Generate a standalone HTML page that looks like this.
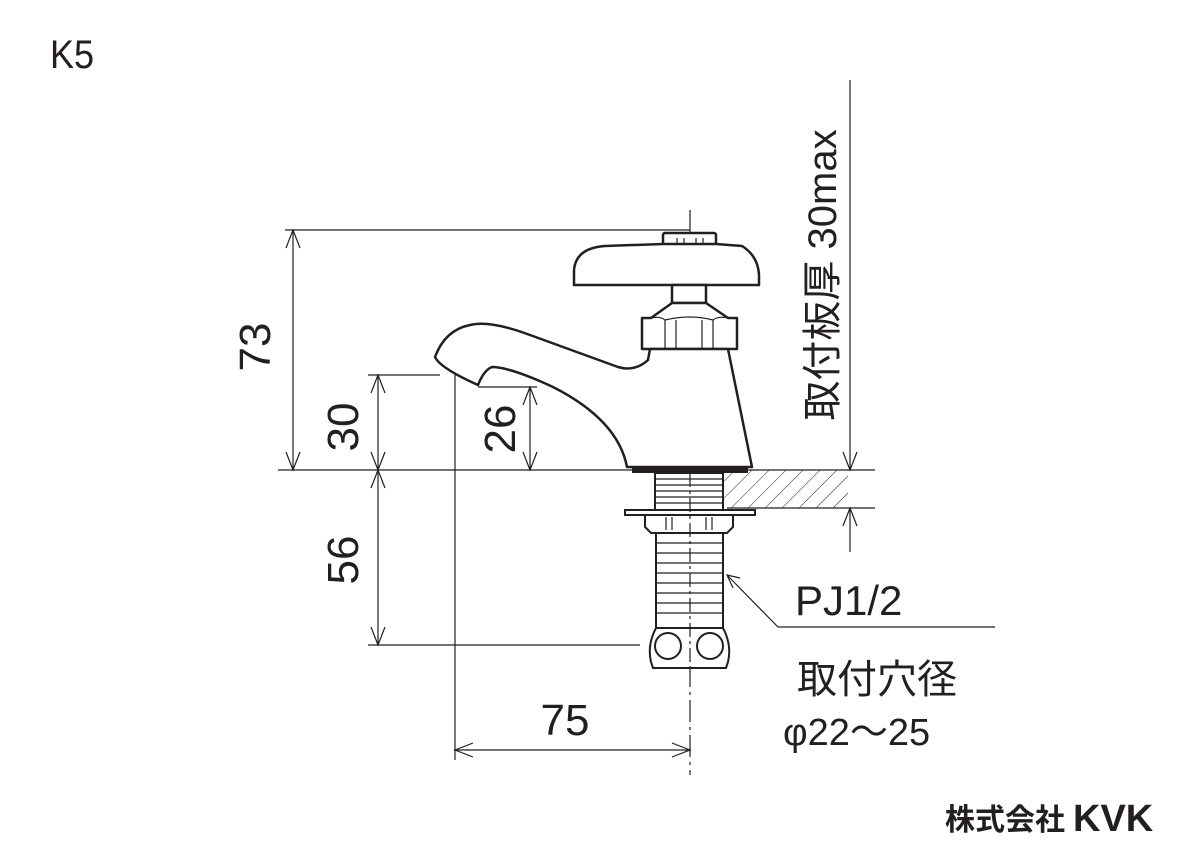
<!DOCTYPE html>
<html><head><meta charset="utf-8"><style>
html,body{margin:0;padding:0;background:#fff;}
svg{display:block;}
text{font-family:"Liberation Sans","Noto Sans CJK JP",sans-serif;fill:#231f20;}
</style></head><body>
<svg width="1200" height="856" viewBox="0 0 1200 856" xmlns="http://www.w3.org/2000/svg">
<defs>
<pattern id="h" patternUnits="userSpaceOnUse" width="12" height="12" patternTransform="rotate(45)">
<line x1="0" y1="0" x2="0" y2="12" stroke="#231f20" stroke-width="1"/>
</pattern>
</defs>
<text x="50" y="68" font-size="40" transform="translate(50,68) scale(0.9,1) translate(-50,-68)">K5</text>

<g stroke="#231f20" stroke-width="1.2" fill="none">
<line x1="690" y1="210" x2="690" y2="775" stroke-dasharray="22,5,3,5"/>
<line x1="285" y1="230" x2="690" y2="230"/>
<line x1="293" y1="230" x2="293" y2="470"/>
<path d="M286 248 L293 230 L300 248 M286 452 L293 470 L300 452"/>
<line x1="278" y1="470" x2="875" y2="470"/>
<line x1="368" y1="375" x2="440" y2="375"/>
<line x1="378" y1="375" x2="378" y2="645"/>
<path d="M371 393 L378 375 L385 393 M371 452 L378 470 L385 452 M371 488 L378 470 L385 488 M371 627 L378 645 L385 627"/>
<line x1="368" y1="645" x2="640" y2="645"/>
<line x1="478" y1="387" x2="537" y2="387"/>
<line x1="530" y1="387" x2="530" y2="470"/>
<path d="M523 405 L530 387 L537 405 M523 452 L530 470 L537 452"/>
<line x1="455" y1="375" x2="455" y2="760"/>
<line x1="455" y1="750" x2="690" y2="750"/>
<path d="M473 743 L455 750 L473 757 M672 743 L690 750 L672 757"/>
<line x1="850" y1="80" x2="850" y2="470"/>
<line x1="850" y1="508" x2="850" y2="552"/>
<path d="M843 452 L850 470 L857 452 M843 526 L850 508 L857 526"/>
<line x1="727" y1="508" x2="875" y2="508"/>
<rect x="723" y="470" width="125" height="38" fill="url(#h)" stroke="none"/>
<line x1="723" y1="470" x2="723" y2="508"/>
</g>

<g stroke="#231f20" stroke-width="2.5" fill="#fff" stroke-linejoin="round">
<rect x="663" y="233" width="53" height="12" rx="2"/>
<path d="M574 285 L574 270 Q576 248 605 246 L663 244 L716 244 L742 246 Q758 256 759 275 L759 285 Z"/>
<rect x="672" y="285" width="34" height="18"/>
<path d="M672 303 L651 318 L642 318 L642 349 L737 349 L737 318 L728 318 L706 303 Z"/>
<path d="M728 349 L752 467 L627 467 Q618 420 553 387 Q510 367 492 367 Q484 370 478 385 Q440 368 435 357 Q445 330 470 325 Q490 320 530 335 L618 367 Q635 372 648 360 L650 349 Z"/>
</g>
<g stroke="#231f20" stroke-width="1.2" fill="none">
<path d="M651 318 Q660 316 665 320 M728 318 Q718 316 713 320 M665 320 L665 349 M713 320 L713 349 M665 320 Q690 314 713 320 M676 320 L676 349 M702 320 L702 349"/>
<line x1="677" y1="238" x2="677" y2="244"/><line x1="684" y1="238" x2="684" y2="244"/><line x1="696" y1="238" x2="696" y2="244"/><line x1="703" y1="238" x2="703" y2="244"/>
</g>
<rect x="632" y="467" width="116" height="6" fill="#231f20"/>
<g stroke="#231f20" stroke-width="2" fill="#fff">
<rect x="655" y="473" width="68" height="38"/>
<path d="M625 510 L755 510 L755 515 L625 515 Z"/>
<path d="M645 515 L733 515 L733 527 L727 533 L651 533 L645 527 Z"/>
<rect x="656" y="533" width="67" height="95"/>
<path d="M656 628 L723 628 Q732 645 728 662 L726 668 L653 668 L651 662 Q647 645 656 628 Z"/>
<circle cx="668" cy="646" r="13"/>
<circle cx="710" cy="646" r="13"/>
</g>
<g stroke="#231f20" stroke-width="1.2">
<line x1="655" y1="479" x2="723" y2="479"/><line x1="655" y1="485" x2="723" y2="485"/><line x1="655" y1="491" x2="723" y2="491"/><line x1="655" y1="497" x2="723" y2="497"/><line x1="655" y1="503" x2="723" y2="503"/>
<line x1="656" y1="543" x2="723" y2="543"/><line x1="656" y1="553" x2="723" y2="553"/><line x1="656" y1="563" x2="723" y2="563"/><line x1="656" y1="573" x2="723" y2="573"/><line x1="656" y1="583" x2="723" y2="583"/><line x1="656" y1="593" x2="723" y2="593"/><line x1="656" y1="603" x2="723" y2="603"/><line x1="656" y1="613" x2="723" y2="613"/>
<line x1="666" y1="517" x2="666" y2="530"/><line x1="672" y1="517" x2="672" y2="530"/><line x1="706" y1="517" x2="706" y2="530"/><line x1="712" y1="517" x2="712" y2="530"/>
<line x1="690" y1="473" x2="690" y2="668" stroke-dasharray="14,4,3,4"/>
<path d="M727 575 L778 627 L995 627" fill="none"/>
<path d="M740 578 L727 575 L733 588" fill="none"/>
</g>

<text x="565" y="735" font-size="44" text-anchor="middle">75</text>
<text transform="translate(270,347) rotate(-90)" font-size="44" text-anchor="middle">73</text>
<text transform="translate(358,427) rotate(-90)" font-size="44" text-anchor="middle">30</text>
<text transform="translate(515,429) rotate(-90)" font-size="44" text-anchor="middle">26</text>
<text transform="translate(358,560) rotate(-90)" font-size="44" text-anchor="middle">56</text>
<text transform="translate(836,275) rotate(-90)" font-size="40" text-anchor="middle">取付板厚 30max</text>
<text x="795" y="615" font-size="42">PJ1/2</text>
<text x="797" y="693" font-size="40">取付穴径</text>
<text x="783" y="745" font-size="38">φ22～25</text>
<text x="945" y="830" font-size="30" font-weight="bold">株式会社</text>
<text x="1073" y="831" font-size="38" font-weight="bold" style="font-family:'Liberation Sans',sans-serif">KVK</text>
</svg>
</body></html>
